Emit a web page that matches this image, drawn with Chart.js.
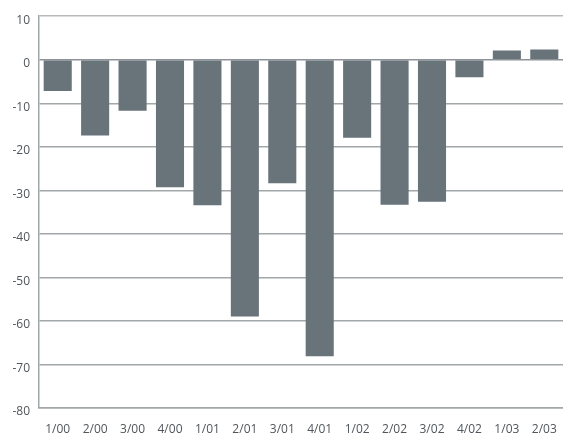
<!DOCTYPE html>
<html>
<head>
<meta charset="utf-8">
<script src="https://cdn.jsdelivr.net/npm/chart.js@4/dist/chart.umd.min.js"></script>
<style>
  html, body { margin: 0; padding: 0; background: #fff; overflow: hidden; }
  #wrap { width: 563px; height: 434px; }
</style>
</head>
<body>
<div id="wrap"><canvas id="chart"></canvas></div>
<script>
// quarters on the x axis
const quarters = ['1/00', '2/00', '3/00', '4/00', '1/01', '2/01', '3/01', '4/01',
                  '1/02', '2/02', '3/02', '4/02', '1/03', '2/03'];
// values
const values = [-7.2, -17.4, -11.7, -29.3, -33.4, -59.0, -28.4, -68.1,
                -17.9, -33.3, -32.6, -4.0, 2.1, 2.35];
const yMin = -80;
const yMax = 10;
const yStep = 10;

const barColor = '#68737a';
const gridColor = '#a2a7aa';
const textColor = '#50565b';
const fontFamily = '"Open Sans", sans-serif';

function draw() {
    new Chart(document.getElementById('chart'), {
        type: 'bar',
        data: {
            labels: quarters,
            datasets: [{
                data: values,
                backgroundColor: barColor,
                borderWidth: 0,
                barPercentage: 0.75,
                categoryPercentage: 1.0
            }]
        },
        options: {
            responsive: true,
            maintainAspectRatio: false,
            animation: false,
            layout: {
                autoPadding: false,
                padding: { top: 14, right: 0, bottom: 0, left: 0 }
            },
            plugins: {
                legend: { display: false },
                tooltip: { enabled: false }
            },
            scales: {
                x: {
                    grid: { display: false, drawTicks: false },
                    border: { display: true, color: gridColor, width: 1.5 },
                    ticks: {
                        color: textColor,
                        font: { family: fontFamily, size: 12 },
                        padding: 14,
                        maxRotation: 0,
                        minRotation: 0
                    },
                    afterFit: function(scale) {
                        scale.height = 26;
                        scale.paddingLeft = 0;
                        scale.paddingRight = 0;
                    }
                },
                y: {
                    min: yMin,
                    max: yMax,
                    grid: {
                        drawTicks: false,
                        lineWidth: 1.5,
                        color: function(ctx) {
                            if (ctx.tick && ctx.tick.value === yMax) return '#b7bbbe';
                            if (ctx.tick && ctx.tick.value === 0) return '#8d9398';
                            return gridColor;
                        }
                    },
                    border: { display: true, color: gridColor, width: 1.5 },
                    ticks: {
                        stepSize: yStep,
                        color: textColor,
                        font: { family: fontFamily, size: 12 },
                        padding: 9,
                        labelOffset: 4
                    },
                    afterFit: function(scale) { scale.width = 39; }
                }
            }
        }
    });
}

if (document.fonts && document.fonts.load) {
    document.fonts.load('12px "Open Sans"').then(draw, draw);
} else {
    draw();
}
</script>
</body>
</html>
